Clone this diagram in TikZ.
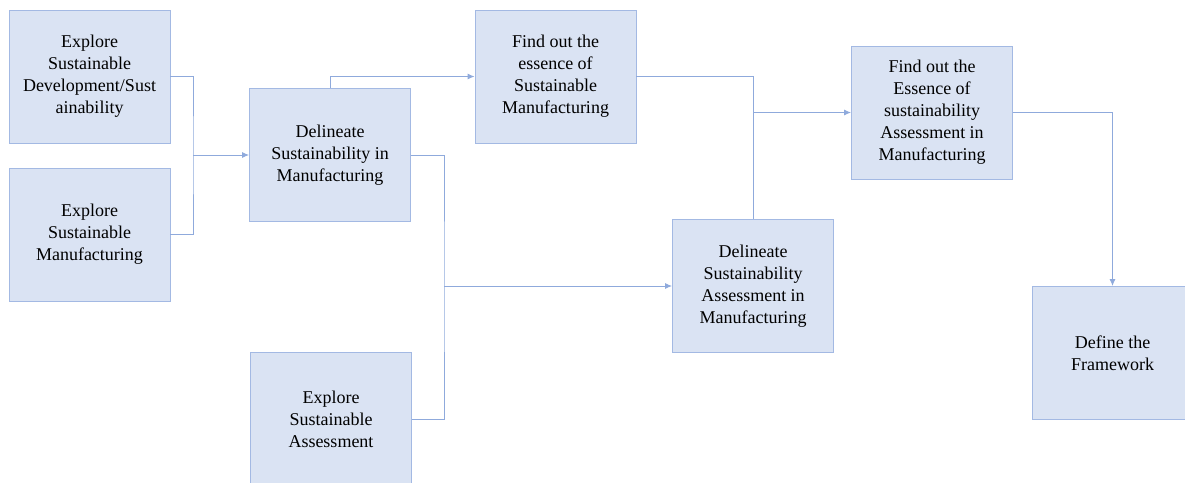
\documentclass[tikz,border=0pt]{standalone}
\usepackage{fontspec}
\setmainfont{Liberation Serif}
\usetikzlibrary{arrows.meta}
\definecolor{boxfill}{HTML}{DAE3F3}
\definecolor{boxline}{HTML}{A3B9E3}
\definecolor{linkline}{HTML}{8FAADC}
\tikzset{
	stagebox/.style={draw=boxline, fill=boxfill, line width=0.9pt, minimum width=161pt, minimum height=133pt, align=center, inner sep=2pt, font=\rmfamily\fontsize{18}{22}\selectfont},
	link/.style={draw=linkline, line width=0.9pt},
	linkarrow/.style={link, -{Latex[length=7pt,width=6pt]}}
}
\begin{document}
\begin{tikzpicture}[x=1pt, y=-1pt]
		%%%%% START %%%%%
		\useasboundingbox (0, 0) rectangle (1185, 482);
		
		\node[stagebox] (sdev) at (89.5, 76.5) {Explore\\Sustainable\\Development/Sust\\ainability};
		\node[stagebox] (sman) at (89.5, 234.5) {Explore\\Sustainable\\Manufacturing};
		\node[stagebox] (dsm) at (330, 155) {Delineate\\Sustainability in\\Manufacturing};
		\node[stagebox] (esm) at (555.5, 76.5) {Find out the\\essence of\\Sustainable\\Manufacturing};
		\node[stagebox] (dsam) at (753, 286) {Delineate\\Sustainability\\Assessment in\\Manufacturing};
		\node[stagebox] (esam) at (932, 112.5) {Find out the\\Essence of\\sustainability\\Assessment in\\Manufacturing};
		\node[stagebox] (frame) at (1112.5, 353) {Define the\\Framework};
		\node[stagebox, minimum height=135pt] (sass) at (331, 419.5) {Explore\\Sustainable\\Assessment};
		
		\coordinate (j1) at (193, 155);
		\coordinate (j2) at (444, 286);
		\coordinate (j3) at (753, 112.5);
		
		\draw[link] (sdev.east) -| (j1) |- (sman.east);
		\draw[linkarrow] (j1) -- (dsm.west);
		\draw[linkarrow] (dsm.north) |- (esm.west);
		\draw[link] (dsm.east) -| (j2) |- (sass.east);
		\draw[linkarrow] (j2) -- (dsam.west);
		\draw[link] (esm.east) -| (j3) -- (dsam.north);
		\draw[linkarrow] (j3) -- (esam.west);
		\draw[linkarrow] (esam.east) -| (frame.north);
		%%%%% END %%%%%
	\end{tikzpicture}
\end{document}
